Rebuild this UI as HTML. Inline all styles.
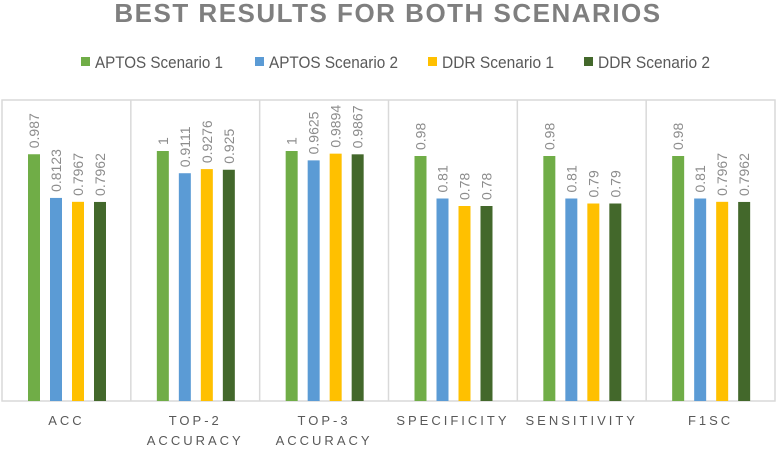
<!DOCTYPE html>
<html><head><meta charset="utf-8"><style>
body{margin:0;background:#fff;width:777px;height:448px;overflow:hidden;font-family:"Liberation Sans",sans-serif}
</style></head><body>
<svg id="chart" width="777" height="448" xmlns="http://www.w3.org/2000/svg">
<text x="388" y="22" text-anchor="middle" font-size="26" font-weight="bold" fill="#7f7f7f" letter-spacing="1.5">BEST RESULTS FOR BOTH SCENARIOS</text>
<g id="legend"></g>
<g id="plot"></g>
</svg>
<script>
const categories=["ACC","TOP-2|ACCURACY","TOP-3|ACCURACY","SPECIFICITY","SENSITIVITY","F1SC"];
const seriesNames=["APTOS Scenario 1","APTOS Scenario 2","DDR Scenario 1","DDR Scenario 2"];
const aptos1=[0.987,1,1,0.98,0.98,0.98];
const aptos2=[0.8123,0.9111,0.9625,0.81,0.81,0.81];
const ddr1=[0.7967,0.9276,0.9894,0.78,0.79,0.7967];
const ddr2=[0.7962,0.925,0.9867,0.78,0.79,0.7962];
const labels1=["0.987","1","1","0.98","0.98","0.98"];
const labels2=["0.8123","0.9111","0.9625","0.81","0.81","0.81"];
const labels3=["0.7967","0.9276","0.9894","0.78","0.79","0.7967"];
const labels4=["0.7962","0.925","0.9867","0.78","0.79","0.7962"];
const series=[aptos1,aptos2,ddr1,ddr2];
const seriesLabels=[labels1,labels2,labels3,labels4];
const colors=["#70ad47","#5b9bd5","#ffc000","#43682b"];
const NS="http://www.w3.org/2000/svg";
const plot=document.getElementById('plot'),legend=document.getElementById('legend');
const x0=2,x1=775,base=401,pxPerUnit=250;
const cw=(x1-x0)/categories.length;
const y=v=>base-v*pxPerUnit;
function mk(t,a,p){const e=document.createElementNS(NS,t);for(const k in a)e.setAttribute(k,a[k]);(p||plot).appendChild(e);return e;}
const fr=mk('rect',{x:x0,y:100,width:x1-x0,height:base-100,fill:'none',stroke:'#d9d9d9','stroke-width':1.5});


for(let i=1;i<categories.length;i++){
 const l=mk('line',{x1:x0+i*cw,x2:x0+i*cw,y1:100,y2:base,stroke:'#d9d9d9','stroke-width':1.5});
 
 
}
categories.forEach((c,i)=>{
 const cx=x0+i*cw;
 series.forEach((s,j)=>{
  const bx=cx+26+j*22;
  const r=mk('rect',{x:bx,y:y(s[i]),width:12,height:s[i]*pxPerUnit,fill:colors[j]});
  
  
  const tx=bx+6+5,ty=y(s[i])-6;
  const t=mk('text',{x:tx,y:ty,transform:`rotate(-90 ${tx} ${ty})`,'font-size':14,fill:'#8c8c8c'});
  t.textContent=seriesLabels[j][i];
  
  
 });
 const lines=c.split('|');
 lines.forEach((ln,k)=>{
  const t=mk('text',{x:cx+cw/2,y:425+k*20,'text-anchor':'middle','font-size':13,fill:'#595959','letter-spacing':3});
  t.textContent=ln;
  
  
 });
});
const lx=[81,255,428,584];
const lw=[128,129,112,112];
seriesNames.forEach((n,j)=>{
 const r=mk('rect',{x:lx[j],y:57,width:9,height:9,fill:colors[j]},legend);
 
 
 const t=mk('text',{x:lx[j]+14,y:68,'font-size':17,fill:'#595959',textLength:lw[j],lengthAdjust:'spacingAndGlyphs'},legend);
 t.textContent=n;
 
 
});
</script>
</body></html>
